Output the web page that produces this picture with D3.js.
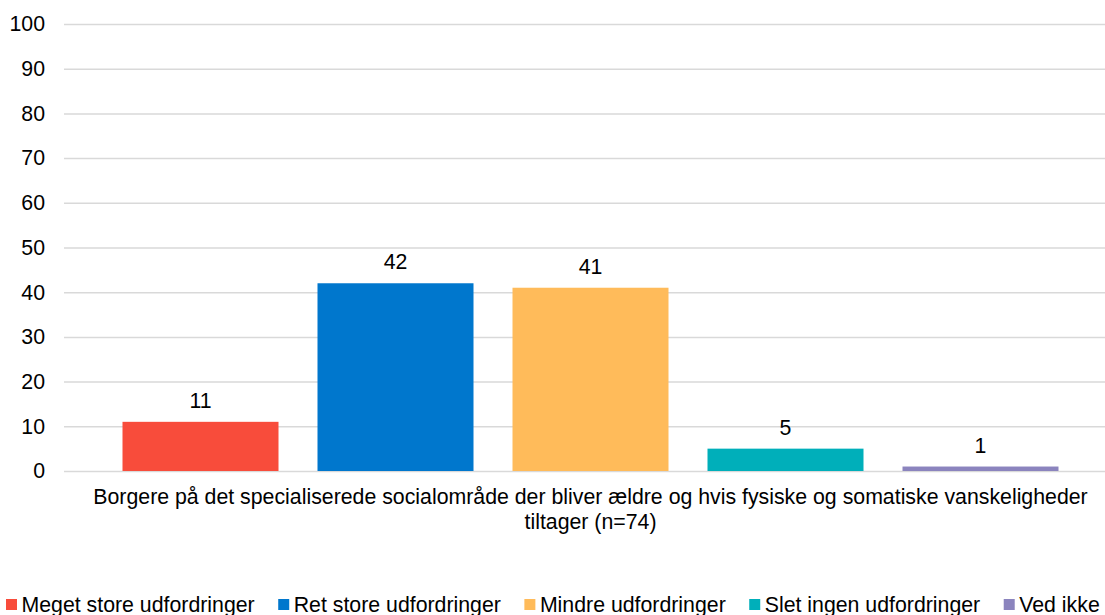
<!DOCTYPE html>
<html>
<head>
<meta charset="utf-8">
<script src="https://cdn.jsdelivr.net/npm/d3@7"></script>
<style>
  body { margin: 0; background: #fff; }
  svg { display: block; font-family: "Liberation Sans", Arial, sans-serif; }
</style>
</head>
<body>
<svg id="chart" width="1105" height="615"></svg>
<script>
// data
var seriesNames = ["Meget store udfordringer", "Ret store udfordringer", "Mindre udfordringer", "Slet ingen udfordringer", "Ved ikke"];
var seriesValues = [11, 42, 41, 5, 1];
var seriesColors = ["#F84C3B", "#0077CD", "#FFBB5A", "#00AFBA", "#8B84BE"];
var categoryLines = ["Borgere på det specialiserede socialområde der bliver ældre og hvis fysiske og somatiske vanskeligheder", "tiltager (n=74)"];
var yTicks = [0, 10, 20, 30, 40, 50, 60, 70, 80, 90, 100];

var svg = d3.select("#chart");
var fontSize = "21.3px";

// plot area (the original is cropped at the right edge)
var plotLeft = 64, plotRight = 1117, plotTop = 24, plotBottom = 471;

var y = d3.scaleLinear().domain([0, 100]).range([plotBottom, plotTop]);
var x = d3.scaleBand()
  .domain(seriesNames)
  .range([plotLeft, plotRight])
  .paddingInner(0.2)
  .paddingOuter(0.3);

// grid lines
var yGrid = d3.axisLeft(y).tickValues(yTicks).tickSize(-(plotRight - plotLeft)).tickFormat("");
svg.append("g")
  .attr("transform", `translate(${plotLeft},0)`)
  .call(yGrid)
  .call(function (g) {
    g.select(".domain").remove();
    g.selectAll("line").attr("stroke", "#d9d9d9").attr("stroke-width", 1.5);
  });

// y axis labels
var yAxis = d3.axisLeft(y).tickValues(yTicks).tickSize(0).tickPadding(19);
svg.append("g")
  .attr("transform", `translate(${plotLeft},0)`)
  .call(yAxis)
  .call(function (g) {
    g.select(".domain").remove();
    g.selectAll("text")
      .attr("font-family", "Liberation Sans, Arial, sans-serif")
      .attr("font-size", fontSize)
      .attr("fill", "#000");
  });

// bars
svg.selectAll("rect.bar")
  .data(seriesValues)
  .enter()
  .append("rect")
  .attr("class", "bar")
  .attr("x", function (d, i) { return x(seriesNames[i]); })
  .attr("y", function (d) { return y(d); })
  .attr("width", x.bandwidth())
  .attr("height", function (d) { return y(0) - y(d); })
  .attr("fill", function (d, i) { return seriesColors[i]; });

// value labels
svg.selectAll("text.val")
  .data(seriesValues)
  .enter()
  .append("text")
  .attr("class", "val")
  .attr("x", function (d, i) { return x(seriesNames[i]) + x.bandwidth() / 2; })
  .attr("y", function (d) { return y(d) - 14; })
  .attr("text-anchor", "middle")
  .attr("font-size", fontSize)
  .attr("fill", "#000")
  .text(function (d) { return d; });

// category label
var cx = (plotLeft + plotRight) / 2;
svg.append("text")
  .attr("x", cx)
  .attr("y", 504)
  .attr("text-anchor", "middle")
  .attr("font-size", fontSize)
  .attr("fill", "#000")
  .selectAll("tspan")
  .data(categoryLines)
  .enter()
  .append("tspan")
  .attr("x", cx)
  .attr("dy", function (d, i) { return i == 0 ? 0 : 25; })
  .text(function (d) { return d; });

// legend
var legend = svg.append("g").attr("class", "legend");
var lx = 6;
seriesNames.forEach(function (name, i) {
  var item = legend.append("g").attr("transform", `translate(${lx},0)`);
  item.append("rect")
    .attr("x", 0)
    .attr("y", 599)
    .attr("width", 11)
    .attr("height", 11)
    .attr("fill", seriesColors[i]);
  var t = item.append("text")
    .attr("x", 15.5)
    .attr("y", 612)
    .attr("font-size", fontSize)
    .attr("fill", "#000")
    .text(name);
  lx += 15.5 + t.node().getComputedTextLength() + 23.5;
});
</script>
</body>
</html>
